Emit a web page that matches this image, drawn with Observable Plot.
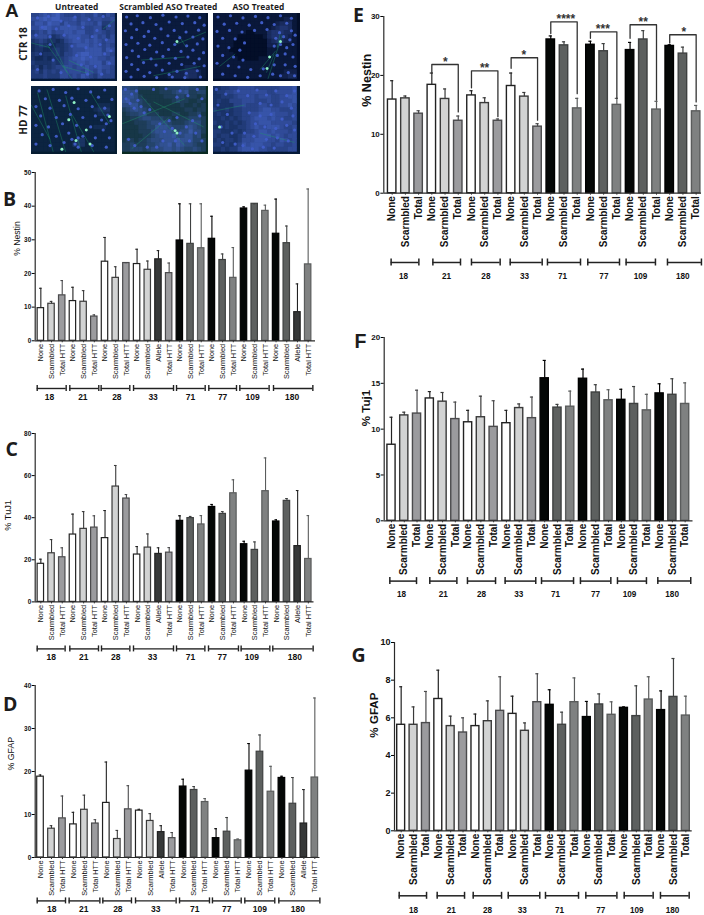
<!DOCTYPE html>
<html>
<head>
<meta charset="utf-8">
<script src="https://cdn.jsdelivr.net/npm/d3@7"></script>
<script src="https://cdn.jsdelivr.net/npm/@observablehq/plot@0.6"></script>
<style>
html,body{margin:0;padding:0;background:#fff}
#page{position:relative;width:704px;height:915px;overflow:hidden}
#page>div.t{position:absolute;white-space:nowrap;color:#1c1c1c}
#page>div.p{position:absolute}
#page>div.tile{position:absolute;overflow:hidden}
svg{display:block;overflow:visible}
</style>
</head>
<body>
<div id="page"></div>
<script>
// ---------- data ----------
const groupNames = ["18","21","28","33","71","77","109","180"];

const labelsLeft = ["None","Scarmbled","Total HTT","None","Scarmbled","Total HTT","None","Scarmbled","Total HTT",
  "None","Scarmbled","Allele","Total HTT","None","Scarmbled","Total HTT","None","Scarmbled","Total HTT",
  "None","Scarmbled","Total HTT","None","Scarmbled","Allele","Total HTT"];
const labelsRight = ["None","Scarmbled","Total","None","Scarmbled","Total","None","Scarmbled","Total","None","Scarmbled","Total",
  "None","Scarmbled","Total","None","Scarmbled","Total","None","Scarmbled","Total","None","Scarmbled","Total"];

const nestinB = [9.7,11,13.5,11.8,11.6,7.2,23.5,18.7,23.1,22.8,21.1,24.2,20.1,29.8,28.8,27.5,30.3,24,18.7,39.3,40.7,38.6,31.8,29,8.5,22.7];
const nestinBTop = [15.6,11.7,17.9,15.9,14.9,7.7,30.7,22,23.2,27.2,23.7,26.8,23.1,40.7,40.7,40.7,37,25.8,27.7,39.8,40.7,40.3,42.1,34.1,16.9,45.1];
const tuj1C = [18.1,23.1,21.2,32,34.7,35.3,30.3,54.8,49.1,22.5,25.8,22.8,23.4,38.5,39.8,36.8,45.1,41.8,51.6,27.4,24.7,52.6,38.2,48,26.5,20.4];
const tuj1CTop = [20.3,29.6,25.7,41.7,42.9,40.9,43.4,64.8,51,26.3,32.3,25.7,25.8,40.9,40.6,41,46.3,42.9,58,28.8,28.5,68.4,39,49.1,52.9,41];
const gfapD = [18.8,6.7,9.1,7.7,11.1,7.9,12.7,4.3,11.2,10.9,8.5,5.9,4.5,16.5,15.7,12.9,4.5,6,4,20.2,24.6,15.3,18.5,12.5,7.9,18.6];
const gfapDTop = [19.2,7.4,14.3,10.5,14.5,8.8,22.2,6.3,16.7,11.2,10.2,7.4,5.8,18.2,16.5,13.7,6.7,9.3,4.3,26.5,28.5,21.2,18.9,18.6,15.8,37.1];
const nestinE = [15.9,16.1,13.5,18.4,16,12.3,16.6,15.3,12.3,18.2,16.4,11.3,26.1,25.1,14.4,25.2,24.1,15,24.3,26.1,14.2,25,23.7,13.9];
const nestinETop = [19.1,16.5,14,20.4,17.7,13.1,17.4,16.2,12.6,20.4,17.1,11.8,26.7,25.7,16.1,25.8,25.4,16.1,25.6,27.6,15.6,25.2,24.8,14.9];
const tuj1F = [8.3,11.5,11.7,13.35,13,11.1,10.75,11.3,10.25,10.65,12.3,11.2,15.55,12.35,12.45,15.5,14,13.15,13.2,12.75,12.05,13.9,13.75,12.75];
const tuj1FTop = [11.3,11.85,14.25,14.1,14,12.95,12.05,13.6,13.1,12.05,12.75,13.5,17.5,12.7,14.15,16.55,14.85,14.3,14.35,14.65,13.8,14.95,15.5,15.05];
const gfapG = [5.63,5.63,5.72,7,5.56,5.22,5.56,5.82,6.37,6.21,5.31,6.83,6.69,5.63,6.83,6.04,6.71,6.16,6.53,6.09,6.97,6.41,7.11,6.12];
const gfapGTop = [7.65,6.58,7.4,8.53,6.09,6,6.2,6.9,8.18,7.15,5.73,8.34,7.49,6.3,8.12,6.87,7.27,6.85,6.58,7.7,8.18,7.43,9.15,7.15];

// group spans along the bar-number axis
const spanFromB = [-.34,2.71,5.64,8.67,12.69,15.71,18.61,21.76], spanToB = [2.37,5.42,8.32,12.41,15.37,18.3,21.35,25.44], spanMidB = [.81,3.93,7.11,10.5,14,17,19.8,23.5];
const spanFromC = [-.34,2.71,5.67,8.66,12.68,15.67,18.72,21.68], spanToC = [2.27,5.39,8.32,12.4,15.33,18.47,21.4,25.45], spanMidC = [.97,4.02,7.01,10.44,13.99,16.95,19.72,23.74];
const spanFromD = [-.3,2.61,5.68,8.66,12.67,15.67,18.62,21.72], spanToD = [2.28,5.41,8.29,12.36,15.4,18.29,21.35,25.46], spanMidD = [1.03,3.95,7.05,10.51,14.06,16.98,19.99,23.45];
const spanFromE = [-.08,3.08,6,8.93,11.75,14.8,17.7,20.83], spanToE = [2.02,5.17,8.17,11.35,14.25,17.2,19.92,23.4], spanMidE = [.86,4.11,7.09,10.01,12.89,16.02,18.79,21.99];
const spanFromF = [-.13,3,5.95,8.9,11.75,14.8,17.7,20.86], spanToF = [1.96,5.12,8.15,11.3,14.26,17.18,19.97,23.44], spanMidF = [.78,4.05,7.05,9.97,12.85,15.98,18.64,21.98];
const spanFromG = [-.16,2.91,5.82,8.65,11.66,14.92,18.02,20.95], spanToG = [2.05,5.12,8.11,11.2,14.33,17.43,20.36,23.27], spanMidG = [1,4.04,6.98,9.78,12.79,16.13,19.04,21.92];

// significance brackets of panel E
const sigStars = ["*","**","*","****","***","**","*"];
const sigFrom = [3,6,9,12,15,18,21];
const sigTo = [5,8,11,14,17,20,23];
const sigMid = [4.03,6.99,9.96,13.14,15.94,18.99,22.07];
const sigTop = [21.85,20.77,23,29.1,27.4,28.6,26.9];
const sigLeftEnd = [20.5,17.9,21.2,27.1,26.3,26.3,25.5];
const sigRightEnd = [13.8,13,12.4,16.9,16.1,15.8,15.5];

// panel A: estimated staining density of each micrograph, one digit per patch
const flat = "11111111111111111111";
const tileRows = [
 ["55676786555565575465","66787886667566566556","57768775766576657445","66787667777665566355","45657566776775566545","56665345677766575646","34543323567767676566","23432233456777676565","23322343456667777576","34233343556788777665","32232334567787776656","43333434566776777576","34243455665667667665","45354546666657657565","44454446656576546555"],
 [flat,flat,flat,flat,flat,flat,flat,flat,flat,flat,flat,flat,"11111111111111122211","11111111111122233321","11111111111222243321"],
 ["11111111111111111111","11111111111111111221","11111111111111123331","11111111111111234431","11111111001113444331","11111100000013443321","11111000000002343221","11111000000002221111","11110000000001111111","11111000000001111111","11111100000111111111","11111111111111111111","11111111111111111111","11111111111111111222","11111111111111112233"],
 [flat,flat,flat,flat,"11111111111111112221","11111111111111123331","11111111111111112221",flat,flat,"11111111111111122211",flat,flat,"11111111111331111111","11111111113331111111",flat],
 ["55443332233444554433","66552222233345563344","66653222223334433323","67554322222234332232","55664332222222322323","34565432222222233233","23445533322233223342","22334554443323334443","22233345555433345553","22223344666544456543","22223335666654557553","22222334566675566452","23323345556667666443","33433344566757655433","33444345556656544543"],
 ["33445566665555556667","34455666666665566667","33444566665666556677","34335556665556556667","33333556555665556676","43343445555677665556","34333445566777766656","33434345567776766556","43343434566777666665","33343344567667776556","44333434556776766656","43443345666777676566","34344346667776657656","44343457677766566556","33434467777665555566"]
];
// estimated nuclei positions in each micrograph: x,y pairs
const tileNuclei = [
 [20,15,55,10,95,25,140,12,185,20,230,10,35,45,80,50,120,40,165,45,210,55,250,40,15,70,60,75,105,70,150,80,195,75,240,85,130,105,175,110,220,100,255,120,145,135,190,140,235,130,160,165,205,170,250,160,30,130,70,150,20,180,95,190,180,195,225,195,60,100],
 [14,12,48,8,90,14,130,6,172,12,210,9,248,14,28,34,66,30,108,36,150,28,192,33,232,30,262,38,10,56,46,52,84,58,124,50,166,55,204,60,244,54,30,78,70,74,104,80,146,72,184,78,226,76,258,82,12,100,50,96,88,102,128,94,168,100,206,104,240,98,32,120,72,116,110,124,148,116,188,122,226,118,260,126,14,142,52,138,92,146,130,138,170,144,210,140,246,146,30,164,68,158,108,166,150,160,190,164,230,160,262,168,12,186,50,180,88,190,128,182,150,196,175,186,205,192,240,184,28,204,70,202,110,206,160,204,200,206,250,204],
 [15,12,55,8,95,15,135,10,175,14,215,8,250,16,35,35,75,32,115,38,155,30,195,36,235,32,12,58,52,55,92,60,132,55,172,52,212,62,250,56,30,80,70,82,100,95,200,80,225,75,245,85,262,70,15,105,50,110,85,118,195,105,215,100,235,110,255,100,30,135,65,140,95,150,205,135,230,130,255,140,12,160,48,168,82,172,120,180,160,178,195,165,230,165,262,170,30,195,70,200,110,205,150,200,190,195,215,200,240,190,260,200],
 [25,15,70,10,110,20,150,8,190,18,235,12,45,40,90,45,130,38,175,45,215,35,258,42,15,65,60,70,105,62,150,72,195,65,235,70,30,95,80,100,125,90,165,100,205,95,245,92,225,108,240,120,255,110,15,125,55,130,100,120,145,125,190,130,230,140,35,155,80,160,120,150,165,160,205,165,250,165,15,185,60,190,105,180,150,195,195,190,240,195,130,170,150,165,140,185],
 [10,10,30,25,12,40,45,15,25,55,50,45,38,70,60,65,70,85,88,75,100,10,140,8,185,15,210,30,240,10,255,40,175,35,120,120,150,110,175,100,135,145,160,135,185,150,170,175,130,175,205,130,225,110,248,95,235,150,215,175,255,175,40,190,80,195,20,170,110,195],
 [10,10,40,25,80,15,110,30,140,12,170,28,200,15,235,30,260,15,150,55,185,60,220,50,250,70,115,85,150,95,185,90,220,105,255,95,135,120,165,130,200,135,235,125,260,140,100,150,130,160,170,170,205,165,240,175,95,190,125,200,160,195,195,198,15,60,45,90,25,130,60,150,30,180,70,185]
];
const tileFibres = [
 [[50,100,130,210],[60,80,115,190],[120,150,200,190],[0,95,60,110],[230,50,268,20],[100,170,190,195]],
 [[170,100,268,60],[180,70,205,110],[60,150,200,140],[100,200,250,170]],
 [[175,210,220,70],[150,180,200,120],[20,170,70,130],[170,190,195,130],[205,110,215,60]],
 [[20,20,70,210],[50,10,110,210],[110,30,160,210],[130,90,200,210],[190,20,250,120],[0,60,60,170]],
 [[0,120,200,40],[30,200,150,100],[100,50,260,130],[60,30,200,190]],
 [[0,80,100,60],[150,150,260,180]]
];
const tileSpots = [
 [],[[175,90]],[[172,177],[180,140],[215,90]],
 [[120,107],[137,52],[188,185],[176,140],[143,174],[98,202],[250,97]],
 [[169,142],[175,150]],[[20,130]]
];
const tileColumnNames = ["Untreated","Scrambled ASO Treated","ASO Treated"];
const tileRowNames = ["CTR 18","HD 77"];

// ---------- layout & style ----------
const page = document.getElementById("page");
const sans = "'Liberation Sans',Arial,sans-serif";

function addText(txt, left, top, css) {
  const d = document.createElement("div");
  d.className = "t";
  d.textContent = txt;
  d.style.left = left + "px";
  d.style.top = top + "px";
  Object.assign(d.style, css);
  page.appendChild(d);
}

function fillFor(label, hd) {
  if (label === "None") return hd ? "#040706" : "#ffffff";
  if (label === "Scarmbled") return hd ? "#5d605f" : "#d2d3d3";
  if (label === "Allele") return "#363838";
  return hd ? "#7f8181" : "#9b9b9e";
}
function strokeFor(label, hd) {
  if (label === "None") return hd ? "#000" : "#222";
  if (label === "Scarmbled") return hd ? "#3e4040" : "#3a3a3a";
  if (label === "Allele") return "#222";
  return hd ? "#5a5c5c" : "#4a4a4c";
}

function panel(c) {
  const bars = c.values.map((v, i) => ({
    i, v, top: c.tops[i], label: c.labels[i],
    fill: fillFor(c.labels[i], i >= c.hdStart),
    stroke: strokeFor(c.labels[i], i >= c.hdStart)
  }));
  const groups = groupNames.map((name, k) => ({name, from: c.from[k], to: c.to[k], mid: c.mid[k]}));
  const svgTop = c.yT - 12;
  const svgH = c.y0 + c.labelDy + 10 - svgTop;
  const k = (c.y0 - c.yT) / c.max;
  const capPx = c.cap;
  const half = c.barHalf;
  const marks = [
    Plot.rectY(bars, {x1: d => d.i - half, x2: d => d.i + half, y1: 0, y2: "v", fill: d => d.fill, stroke: d => d.stroke, strokeWidth: c.sw}),
    Plot.ruleX(bars, {x: "i", y1: "v", y2: "top", stroke: d => d.stroke, strokeWidth: c.ew}),
    Plot.ruleY(bars, {x1: d => d.i - c.errCap, x2: d => d.i + c.errCap, y: "top", stroke: d => d.stroke, strokeWidth: c.ew}),
    Plot.ruleY([0], {stroke: "#2a2a2a", strokeWidth: 1.2}),
    Plot.ruleX([c.domain0], {y1: 0, y2: c.max, stroke: "#2a2a2a", strokeWidth: 1.2}),
    Plot.axisX(bars.map(d => d.i), {
      tickFormat: i => c.labels[i], tickRotate: -90, tickSize: 2, tickPadding: c.tickPad, label: null,
      fontSize: c.tickFont, fontWeight: c.tickWeight, fill: "#111", stroke: "#333"
    }),
    Plot.axisY(c.yTicks, {tickSize: 3, tickPadding: 1, label: null, fontSize: c.numFont, fontWeight: "bold", fill: "#111"}),
    Plot.text([c.yLabel], {frameAnchor: "left", dx: c.yLabelDx, dy: c.yLabelDy, rotate: -90, fontSize: c.yLabelFont, fontWeight: c.yLabelWeight, fill: "#111"}),
    Plot.ruleY(groups, {x1: "from", x2: "to", y: 0, dy: c.bracketDy, stroke: "#222", strokeWidth: c.bw}),
    Plot.ruleX(groups, {x: "from", y1: 0, y2: capPx / k, dy: c.bracketDy + capPx / 2, stroke: "#222", strokeWidth: c.bw}),
    Plot.ruleX(groups, {x: "to", y1: 0, y2: capPx / k, dy: c.bracketDy + capPx / 2, stroke: "#222", strokeWidth: c.bw}),
    Plot.text(groups, {x: "mid", y: 0, dy: c.labelDy, text: "name", fontSize: c.groupFont, fontWeight: "bold", fill: "#111"})
  ];
  if (c.sig) {
    const pts = [];
    sigStars.forEach((s, j) => {
      pts.push({id: j, x: sigFrom[j], y: sigLeftEnd[j]}, {id: j, x: sigFrom[j], y: sigTop[j]},
               {id: j, x: sigTo[j], y: sigTop[j]}, {id: j, x: sigTo[j], y: sigRightEnd[j]});
    });
    marks.push(Plot.line(pts, {x: "x", y: "y", z: "id", stroke: "#333", strokeWidth: 1.3, curve: "linear"}));
    marks.push(Plot.text(sigStars.map((s, j) => ({s, x: sigMid[j], y: sigTop[j]})), {x: "x", y: "y", text: "s", dy: -2.5, fontSize: 12, fontWeight: "bold", fill: "#333"}));
  }
  const chart = Plot.plot({
    width: c.svgW, height: svgH,
    marginLeft: c.axisL - c.svgLeft, marginRight: c.svgLeft + c.svgW - c.axisR,
    marginTop: c.yT - svgTop, marginBottom: svgTop + svgH - c.y0,
    x: {domain: [c.domain0, c.domain1], axis: null},
    y: {domain: [0, c.max], axis: null},
    style: {fontFamily: sans, background: "transparent", overflow: "visible"},
    marks
  });
  const w = document.createElement("div");
  w.className = "p";
  w.style.left = c.svgLeft + "px";
  w.style.top = svgTop + "px";
  w.appendChild(chart);
  page.appendChild(w);
}

const small = {svgLeft: 0, svgW: 330, hdStart: 13, labels: labelsLeft, barHalf: .3, sw: 1.2, ew: 1.1, errCap: .12,
  tickPad: 1, tickFont: 7.4, tickWeight: "normal", numFont: 6.4, yLabelWeight: "normal", groupFont: 8.5, bw: 1.4, cap: 6};
const large = {svgLeft: 330, svgW: 374, hdStart: 12, labels: labelsRight, barHalf: .32, sw: 1.4, ew: 1.2, errCap: .12,
  tickPad: 1, tickFont: 10, tickWeight: "bold", numFont: 8, yLabelWeight: "bold", groupFont: 8.2, bw: 1.5, cap: 7};

function cfg(base, o) {
  const c = {...base, ...o};
  c.domain0 = (c.axisL - c.c0) / c.step;
  c.domain1 = (c.axisR - c.c0) / c.step;
  return c;
}

panel(cfg(small, {values: nestinB, tops: nestinBTop, from: spanFromB, to: spanToB, mid: spanMidB, max: 50, yTicks: [0,10,20,30,40,50],
  yT: 172, y0: 340.3, axisL: 34.7, axisR: 315, c0: 40.33, step: 10.693, bracketDy: 47.7, labelDy: 56.4,
  yLabel: "% Nestin", yLabelDx: -17.7, yLabelDy: -1, yLabelFont: 8.6}));
panel(cfg(small, {values: tuj1C, tops: tuj1CTop, from: spanFromC, to: spanToC, mid: spanMidC, max: 80, yTicks: [0,20,40,60,80],
  yT: 433.3, y0: 601.7, axisL: 34.7, axisR: 313.5, c0: 40.33, step: 10.7, bracketDy: 47, labelDy: 55.6,
  yLabel: "% TuJ1", yLabelDx: -27.4, yLabelDy: 13, yLabelFont: 9.2}));
panel(cfg(small, {values: gfapD, tops: gfapDTop, from: spanFromD, to: spanToD, mid: spanMidD, max: 40, yTicks: [0,10,20,30,40],
  yT: 685.3, y0: 857.3, axisL: 34.7, axisR: 319.5, c0: 40, step: 10.973, bracketDy: 43.4, labelDy: 52,
  yLabel: "% GFAP", yLabelDx: -24, yLabelDy: -1, yLabelFont: 8.8}));
panel(cfg(large, {values: nestinE, tops: nestinETop, from: spanFromE, to: spanToE, mid: spanMidE, max: 30, yTicks: [0,10,20,30], sig: true,
  yT: 16.3, y0: 193, axisL: 383.3, axisR: 701, c0: 391.67, step: 13.217, bracketDy: 69.3, labelDy: 82.7,
  yLabel: "% Nestin", yLabelDx: -17.3, yLabelDy: 2, yLabelFont: 12.6}));
panel(cfg(large, {values: tuj1F, tops: tuj1FTop, from: spanFromF, to: spanToF, mid: spanMidF, max: 20, yTicks: [0,5,10,15,20],
  yT: 336.7, y0: 520, axisL: 383.7, axisR: 692.5, c0: 391, step: 12.767, bracketDy: 60.3, labelDy: 73.7,
  yLabel: "% Tuj1", yLabelDx: -17.7, yLabelDy: -3, yLabelFont: 11.5}));
panel(cfg(large, {values: gfapG, tops: gfapGTop, from: spanFromG, to: spanToG, mid: spanMidG, max: 10, yTicks: [0,2,4,6,8,10],
  yT: 642, y0: 830.3, axisL: 394, axisR: 691.7, c0: 400.67, step: 12.377, bracketDy: 65, labelDy: 79.7, numFont: 9,
  yLabel: "% GFAP", yLabelDx: -20, yLabelDy: 1, yLabelFont: 11.6}));

// ---------- panel A ----------
const tileX = [30.7, 122, 213.3], tileY = [12.7, 86], tileW = 89.4, tileH = 70;
const tileBg = ["#051a38", "#04122c", "#030e28", "#051c30", "#0a2a22", "#051a38"];
tileRows.forEach((rows, t) => {
  const cells = [];
  rows.forEach((row, r) => [...row].forEach((ch, col) => cells.push({col, r, v: +ch})));
  const fibres = tileFibres[t].map(f => ({x1: f[0] / 268 * 20, y1: f[1] / 210 * 15, x2: f[2] / 268 * 20, y2: f[3] / 210 * 15}));
  const spots = tileSpots[t].map(s => ({x: s[0] / 268 * 20, y: s[1] / 210 * 15}));
  const flatNuclei = tileNuclei[t];
  const nuclei = [];
  for (let j = 0; j + 1 < flatNuclei.length; j += 2) nuclei.push({x: flatNuclei[j] / 268 * 20, y: flatNuclei[j + 1] / 210 * 15});
  const chart = Plot.plot({
    width: tileW + 6, height: tileH + 6, margin: 0,
    marginLeft: 3, marginRight: 3, marginTop: 3, marginBottom: 3,
    x: {domain: [0, 20], axis: null},
    y: {domain: [0, 15], axis: null, reverse: true},
    color: {type: "linear", domain: [0, 9], range: [tileBg[t], "#4564c8"]},
    style: {background: tileBg[t], filter: "blur(0.6px)", display: "block", margin: "-3px"},
    marks: [
      Plot.rect(cells, {x1: "col", x2: d => d.col + 1, y1: "r", y2: d => d.r + 1, fill: "v", inset: -0.3}),
      Plot.link(fibres, {x1: "x1", y1: "y1", x2: "x2", y2: "y2", stroke: "#1f9a68", strokeWidth: .7, strokeOpacity: .6}),
      Plot.dot(nuclei, {x: "x", y: "y", r: 1.7, fill: "#3f5cc6"}),
      Plot.dot(spots, {x: "x", y: "y", r: 1.6, fill: "#8ff0c4"})
    ]
  });
  const w = document.createElement("div");
  w.className = "tile";
  w.style.cssText = `left:${tileX[t % 3]}px;top:${tileY[Math.floor(t / 3)]}px;width:${tileW}px;height:${tileH}px`;
  w.appendChild(chart);
  page.appendChild(w);
});

const head = {fontFamily: "'Open Sans',sans-serif", fontWeight: "700", fontSize: "8.4px", lineHeight: "10px", transform: "translateX(-50%)"};
addText(tileColumnNames[0], 76.7, 1.7, head);
addText(tileColumnNames[1], 168.3, 1.7, head);
addText(tileColumnNames[2], 258.3, 1.7, head);
const side = {fontFamily: "'Open Sans',sans-serif", fontWeight: "700", fontSize: "10.2px", lineHeight: "12px", transform: "translate(-50%,-50%) rotate(-90deg)"};
addText(tileRowNames[0], 23, 44, side);
addText(tileRowNames[1], 23, 120, side);

// panel letters
const letter = {fontFamily: "'Open Sans',sans-serif", fontWeight: "700", fontSize: "19.5px", lineHeight: "20px"};
addText("A", 5, 0, {fontFamily: sans, fontWeight: "700", fontSize: "19px", lineHeight: "normal"});
addText("B", 3, 188.5, letter);
addText("C", 5.5, 438.5, letter);
addText("D", 3, 693.5, letter);
addText("E", 353, 4.5, letter);
addText("F", 354.5, 330.5, {...letter, fontFamily: sans});
addText("G", 351.5, 644.5, letter);
</script>
</body>
</html>
